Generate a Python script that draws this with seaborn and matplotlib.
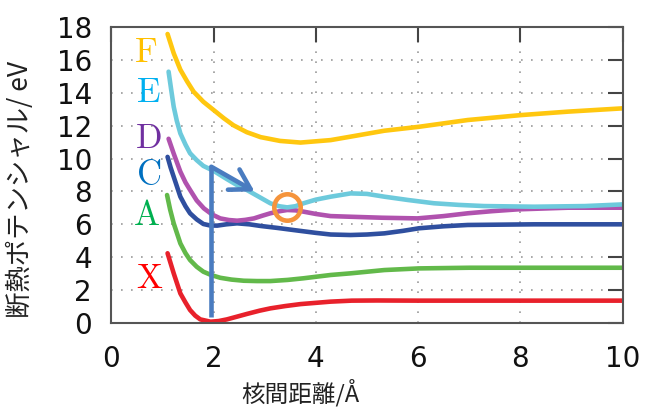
import matplotlib
matplotlib.use("Agg")
import matplotlib.pyplot as plt
import seaborn as sns
import pandas as pd

# curves (x: nuclear distance / Å, y: potential / eV)
x_X = [1.10, 1.22, 1.35, 1.45, 1.54, 1.64, 1.74, 1.94, 2.10, 2.26, 2.45, 2.65, 2.90, 3.11, 3.40, 3.70, 4.29, 4.70, 5.20, 6.00, 10.0]
y_X = [4.24, 3.02, 1.80, 1.25, 0.79, 0.45, 0.22, 0.08, 0.12, 0.22, 0.38, 0.55, 0.75, 0.89, 1.03, 1.15, 1.30, 1.36, 1.37, 1.36, 1.36]

x_A = [1.09, 1.15, 1.22, 1.35, 1.45, 1.54, 1.67, 1.80, 1.95, 2.13, 2.35, 2.59, 2.85, 3.11, 3.45, 3.76, 4.29, 4.68, 5.34, 6.02, 7.00, 10.0]
y_A = [7.78, 6.90, 6.06, 4.84, 4.25, 3.83, 3.42, 3.12, 2.92, 2.75, 2.64, 2.57, 2.55, 2.55, 2.62, 2.72, 2.92, 3.02, 3.22, 3.32, 3.36, 3.36]

x_C = [1.10, 1.16, 1.22, 1.35, 1.45, 1.54, 1.67, 1.80, 1.93, 2.07, 2.25, 2.46, 2.70, 2.92, 3.25, 3.57, 4.00, 4.29, 4.68, 5.00, 5.34, 5.70, 6.02, 6.50, 6.97, 8.27, 10.0]
y_C = [10.1, 9.45, 8.89, 7.68, 7.10, 6.67, 6.30, 6.02, 5.93, 5.92, 6.00, 6.06, 6.00, 5.90, 5.78, 5.65, 5.48, 5.38, 5.35, 5.38, 5.45, 5.60, 5.76, 5.88, 5.96, 6.00, 6.00]

x_D = [1.12, 1.22, 1.35, 1.45, 1.54, 1.67, 1.81, 1.97, 2.13, 2.30, 2.46, 2.62, 2.79, 2.95, 3.11, 3.28, 3.44, 3.60, 3.76, 4.00, 4.29, 4.68, 5.30, 5.99, 6.50, 6.97, 7.45, 7.95, 8.93, 10.0]
y_D = [11.2, 10.3, 9.20, 8.55, 8.09, 7.45, 6.97, 6.60, 6.36, 6.26, 6.22, 6.27, 6.36, 6.52, 6.67, 6.79, 6.87, 6.85, 6.77, 6.63, 6.50, 6.46, 6.40, 6.36, 6.50, 6.67, 6.80, 6.91, 7.01, 7.01]

x_E = [1.12, 1.17, 1.22, 1.28, 1.35, 1.45, 1.54, 1.67, 1.80, 2.00, 2.26, 2.45, 2.65, 2.90, 3.11, 3.28, 3.44, 3.60, 3.76, 4.00, 4.29, 4.68, 5.00, 5.34, 5.80, 6.31, 6.80, 7.29, 8.27, 9.26, 10.0]
y_E = [15.28, 14.2, 13.15, 12.3, 11.53, 10.85, 10.32, 9.90, 9.55, 9.25, 8.75, 8.40, 8.09, 7.65, 7.28, 7.10, 7.03, 7.10, 7.28, 7.50, 7.68, 7.88, 7.85, 7.68, 7.48, 7.28, 7.18, 7.11, 7.07, 7.11, 7.21]

x_F = [1.10, 1.22, 1.35, 1.48, 1.61, 1.80, 2.00, 2.20, 2.39, 2.65, 2.92, 3.30, 3.70, 4.29, 4.68, 5.34, 6.02, 6.97, 8.01, 8.93, 10.0]
y_F = [17.57, 16.4, 15.4, 14.7, 14.06, 13.45, 12.95, 12.45, 12.02, 11.6, 11.3, 11.07, 10.97, 11.12, 11.33, 11.69, 11.93, 12.34, 12.64, 12.85, 13.05]

states = ["X", "A", "C", "D", "E", "F"]
curve_colors = ["#e8212b", "#62b94a", "#2f4f9f", "#b052ae", "#6dcadc", "#ffc70f"]
label_colors = ["#ff0000", "#00b050", "#0070c0", "#7030a0", "#00b0f0", "#ffc000"]
label_x = [0.75, 0.68, 0.72, 0.73, 0.73, 0.68]
label_y = [2.72, 6.57, 9.0, 11.23, 14.06, 16.5]

# excitation arrow and the marked crossing
arrow_x = [1.955, 1.955, 2.80]
arrow_y = [0.38, 9.5, 8.0]
mark_x = [3.44]
mark_y = [7.07]

xticks = [0, 2, 4, 6, 8, 10]
yticks = [0, 2, 4, 6, 8, 10, 12, 14, 16, 18]

frames = []
for s, xs, ys in zip(states, [x_X, x_A, x_C, x_D, x_E, x_F], [y_X, y_A, y_C, y_D, y_E, y_F]):
    frames.append(pd.DataFrame({"r": xs, "E": ys, "state": s}))
df = pd.concat(frames, ignore_index=True)

sns.set_style("white")
plt.rcParams["font.family"] = ["DejaVu Sans", "Noto Sans CJK JP"]
plt.rcParams["mathtext.fontset"] = "cm"

fig = plt.figure(figsize=(6.48, 4.08), dpi=100)
ax = fig.add_axes([0.1718, 0.2083, 0.789, 0.7257])

sns.lineplot(data=df, x="r", y="E", hue="state", hue_order=states,
             palette=curve_colors, linewidth=3.3, legend=False, ax=ax, sort=False)

ax.plot(arrow_x[:2], arrow_y[:2], color="#4a7cc0", lw=3.3, solid_capstyle="butt")
ax.annotate("", xy=(arrow_x[2], arrow_y[2]), xytext=(arrow_x[1], arrow_y[1]),
            arrowprops=dict(arrowstyle="->,head_length=0.7,head_width=0.42",
                            lw=3.3, color="#4a7cc0", shrinkA=0, shrinkB=0,
                            mutation_scale=20))
ax.plot(mark_x, mark_y, marker="o", ms=19, mfc="none", mec="#f5943c", mew=3.3, ls="none")

for s, c, lx, ly in zip(states, label_colors, label_x, label_y):
    ax.text(lx, ly, r"$\mathrm{%s}$" % s, color=c, fontsize=25, ha="center", va="center")

ax.set_xlim(0, 10)
ax.set_ylim(0, 18)
ax.set_xticks(xticks)
ax.set_yticks(yticks)
ax.grid(True, color="#9a9a9a", linestyle=(0, (1, 5)), linewidth=1.2)
for sp in ax.spines.values():
    sp.set_color("#555555")
    sp.set_linewidth(1.5)
ax.tick_params(direction="in", length=11, width=1.5, color="#444444",
               top=True, right=True, labelsize=20, labelcolor="#111111")
ax.tick_params(axis="y", pad=14)
ax.tick_params(axis="x", pad=16)

ax.set_xlabel("核間距離/Å", fontsize=17, family=["Noto Sans CJK JP", "DejaVu Sans"], color="#222222")
ax.set_ylabel("断熱ポテンシャル/ eV", fontsize=19, family=["Noto Sans CJK JP", "DejaVu Sans"], color="#222222")
ax.xaxis.set_label_coords(0.37, -0.19)
ax.yaxis.set_label_coords(-0.152, 0.45)

fig.savefig("out.png", dpi=100)
